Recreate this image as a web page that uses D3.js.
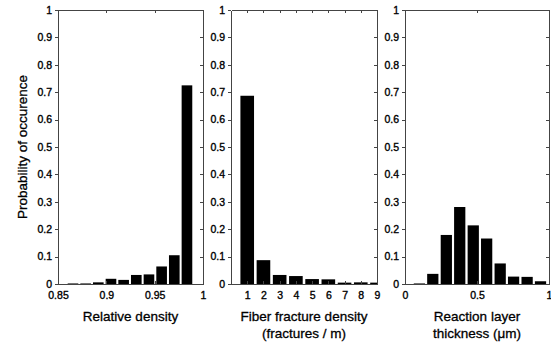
<!DOCTYPE html>
<html>
<head>
<meta charset="utf-8">
<script src="https://cdn.jsdelivr.net/npm/d3@7/dist/d3.min.js"></script>
<style>
  body { margin: 0; background: #fff; }
  svg { display: block; font-family: "Liberation Sans", Arial, Helvetica, sans-serif; }
  .axis path, .axis line { stroke: #444; shape-rendering: crispEdges; }
  .axis text { font-size: 10.5px; fill: #000; stroke: #000; stroke-width: 0.35px; }
  .title { font-size: 13.5px; fill: #000; stroke: #000; stroke-width: 0.3px; text-anchor: middle; }
</style>
</head>
<body>
<div class="container"></div>
<script>
(function(){

    // values
    var probTicks = [0, 0.1, 0.2, 0.3, 0.4, 0.5, 0.6, 0.7, 0.8, 0.9, 1];

    var densityBins = [0.8655, 0.8786, 0.8917, 0.9048, 0.9179, 0.9310, 0.9441, 0.9572, 0.9703, 0.9834];
    var densityProb = [0.002, 0.002, 0.006, 0.019, 0.015, 0.033, 0.035, 0.064, 0.105, 0.725];
    var densityTicks = [0.85, 0.9, 0.95, 1];

    var fractureBins = [1, 2, 3, 4, 5, 6, 7, 8, 9];
    var fractureProb = [0.687, 0.087, 0.033, 0.029, 0.018, 0.017, 0.005, 0.006, 0.005];
    var fractureTicks = [1, 2, 3, 4, 5, 6, 7, 8, 9];

    var thicknessBins = [0.100, 0.193, 0.287, 0.380, 0.474, 0.567, 0.661, 0.754, 0.848, 0.941];
    var thicknessProb = [0.002, 0.037, 0.179, 0.281, 0.214, 0.166, 0.075, 0.027, 0.026, 0.010];
    var thicknessTicks = [0, 0.5, 1];

    var panels = [
      { bins: densityBins, prob: densityProb, ticks: densityTicks, domain: [0.85, 1],
        left: 58, right: 203, title: ["Relative density"] },
      { bins: fractureBins, prob: fractureProb, ticks: fractureTicks, domain: [0, 9],
        left: 231, right: 377, title: ["Fiber fracture density", "(fractures / m)"] },
      { bins: thicknessBins, prob: thicknessProb, ticks: thicknessTicks, domain: [0, 1],
        left: 405, right: 549, title: ["Reaction layer", "thickness (\u03bcm)"] }
    ];

    var top = 10, bottom = 284;

    var svg = d3.select(".container").append("svg")
        .attr("width", 551)
        .attr("height", 345);

    svg.append("rect").attr("width", 551).attr("height", 345).attr("fill", "#fff");

    var y = d3.scaleLinear().domain([0, 1]).range([bottom, top]);

    panels.forEach(function(p, i) {
      var x = d3.scaleLinear().domain(p.domain).range([p.left, p.right]);
      var step = x(p.bins[1]) - x(p.bins[0]);
      var bw = step * 0.84;

      svg.append("clipPath").attr("id", "clip" + i)
        .append("rect")
        .attr("x", p.left).attr("y", top)
        .attr("width", p.right - p.left).attr("height", bottom - top);

      svg.append("g")
        .attr("clip-path", "url(#clip" + i + ")")
        .selectAll("rect")
        .data(p.prob)
        .enter().append("rect")
        .attr("x", function(d, j) { return x(p.bins[j]) - bw / 2; })
        .attr("y", function(d) { return y(d); })
        .attr("width", bw)
        .attr("height", function(d) { return bottom - y(d); })
        .attr("fill", "#000");

      svg.append("g").attr("class", "axis")
        .attr("transform", "translate(0," + bottom + ")")
        .call(d3.axisBottom(x).tickValues(p.ticks).tickSizeInner(-3).tickSizeOuter(0)
          .tickPadding(7.5).tickFormat(function(d) { return String(d); }));

      svg.append("g").attr("class", "axis")
        .attr("transform", "translate(0," + top + ")")
        .call(d3.axisTop(x).tickValues(p.ticks).tickSizeInner(-3).tickSizeOuter(0)
          .tickFormat(""));

      svg.append("g").attr("class", "axis")
        .attr("transform", "translate(" + p.left + ",0)")
        .call(d3.axisLeft(y).tickValues(probTicks).tickSizeInner(3).tickSizeOuter(0)
          .tickPadding(3).tickFormat(function(d) { return String(d); }));

      svg.append("g").attr("class", "axis")
        .attr("transform", "translate(" + p.right + ",0)")
        .call(d3.axisRight(y).tickValues(probTicks).tickSizeInner(-3).tickSizeOuter(0)
          .tickFormat(""));

      var cx = (p.left + p.right) / 2;
      p.title.forEach(function(t, k) {
        svg.append("text").attr("class", "title")
          .attr("x", cx).attr("y", 321 + k * 17)
          .text(t);
      });
    });

    svg.append("text").attr("class", "title")
      .attr("transform", "translate(26.5," + (top + bottom) / 2 + ") rotate(-90)")
      .text("Probability of occurence");

})();
</script>
</body>
</html>
